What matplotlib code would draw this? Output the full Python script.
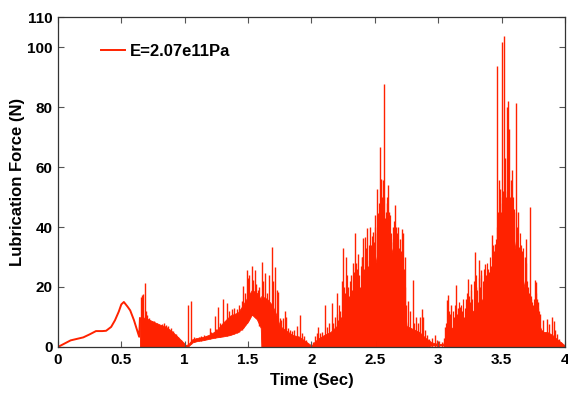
import matplotlib
matplotlib.use("Agg")
import matplotlib.pyplot as plt

plt.rcParams.update({
    "font.family": ["Liberation Sans Narrow", "Liberation Sans", "DejaVu Sans"],
    "font.weight": "bold",
    "font.size": 12,
    "axes.linewidth": 0.9,
})

RED = "#ff2200"

#smooth run-up before the contact starts
smooth_t = [0.0, 0.05, 0.10, 0.15, 0.20, 0.25, 0.30, 0.35, 0.38, 0.42, 0.45,
            0.48, 0.50, 0.52, 0.55, 0.57, 0.60, 0.62, 0.641, 0.647]
smooth_f = [0.0, 1.1, 2.2, 2.7, 3.2, 4.2, 5.3, 5.3, 5.4, 6.7, 8.9,
            11.8, 14.2, 15.0, 13.4, 12.2, 8.9, 6.2, 3.4, 9.6]

#dense oscillation band: lower and upper edge of the solid red
core_t = [0.647, 0.66, 0.70, 0.75, 0.80, 0.85, 0.90, 0.95, 0.99, 1.01,
          1.03, 1.06, 1.10, 1.15, 1.20, 1.25, 1.30, 1.36, 1.42, 1.46,
          1.50, 1.53, 1.57, 1.60, 1.605, 1.65, 1.69, 1.72, 1.75, 1.80,
          1.85, 1.90, 1.95, 2.00, 2.03, 2.06, 2.10, 2.15, 2.20, 2.24,
          2.28, 2.32, 2.36, 2.40, 2.45, 2.50, 2.54, 2.57, 2.60, 2.65,
          2.70, 2.73, 2.75, 2.80, 2.85, 2.90, 2.95, 3.00, 3.04, 3.06,
          3.10, 3.15, 3.20, 3.25, 3.30, 3.35, 3.40, 3.45, 3.48, 3.52,
          3.58, 3.62, 3.66, 3.70, 3.74, 3.78, 3.82, 3.86, 3.90, 3.94,
          3.97, 4.00]
core_lo = [0.0, 0.0, 0.0, 0.0, 0.0, 0.0, 0.0, 0.0, 0.0, 0.0,
           0.3, 1.5, 2.0, 2.3, 2.8, 3.2, 3.5, 4.0, 5.0, 6.3,
           8.5, 10.8, 9.2, 6.3, 0.0, 0.0, 0.0, 0.0, 0.0, 0.0,
           0.0, 0.0, 0.0, 0.0, 0.0, 0.0, 0.0, 0.0, 0.0, 0.0,
           0.0, 0.0, 0.0, 0.0, 0.0, 0.0, 0.0, 0.0, 0.0, 0.0,
           0.0, 0.0, 0.0, 0.0, 0.0, 0.0, 0.5, 0.5, 0.5, 0.0,
           0.0, 0.0, 0.0, 0.0, 0.0, 0.0, 0.0, 0.0, 0.0, 0.0,
           0.0, 0.0, 0.0, 0.0, 0.0, 0.0, 0.0, 0.0, 0.0, 0.0,
           0.0, 0.0]
core_hi = [9.6, 10.0, 9.5, 8.5, 7.5, 6.8, 5.2, 3.2, 1.5, 0.6,
           1.0, 2.6, 3.0, 3.4, 4.2, 5.5, 8.0, 10.5, 11.5, 14.0,
           17.0, 19.0, 18.0, 16.0, 17.0, 16.0, 14.0, 11.0, 7.0, 5.5,
           4.0, 3.5, 2.0, 0.5, 2.0, 3.0, 4.0, 5.0, 7.0, 10.0,
           11.0, 14.0, 16.0, 19.0, 22.0, 27.0, 35.0, 40.0, 37.0, 30.0,
           24.0, 16.0, 7.0, 6.0, 5.0, 3.0, 1.5, 1.0, 1.0, 4.0,
           6.0, 8.0, 9.0, 11.0, 13.0, 16.0, 20.0, 25.0, 35.0, 42.0,
           40.0, 30.0, 24.0, 16.0, 11.0, 9.0, 5.0, 5.0, 4.0, 2.5,
           1.5, 0.5]

#individual force spikes standing on the zero line
spike_t = [0.655, 0.662, 0.668, 0.686, 0.692, 0.70, 0.72, 0.74, 0.76, 0.78,
           0.80, 0.818, 0.835, 0.85, 0.87, 0.89, 0.91, 0.93, 0.95, 0.97,
           0.99,
           1.607, 1.62, 1.635, 1.65, 1.667, 1.686, 1.70, 1.715, 1.725, 1.735,
           1.75, 1.76, 1.775, 1.791, 1.80, 1.815, 1.83, 1.845, 1.86, 1.883,
           1.909, 1.925, 1.94, 1.96, 1.98,
           2.01, 2.028, 2.04, 2.054, 2.07, 2.085, 2.107, 2.12, 2.135, 2.159,
           2.17, 2.185, 2.199, 2.21, 2.225, 2.24, 2.251, 2.265, 2.275, 2.29,
           2.31, 2.325, 2.343, 2.355, 2.37, 2.383, 2.395, 2.409, 2.42, 2.435,
           2.445, 2.46, 2.47, 2.48, 2.488, 2.50, 2.514, 2.527, 2.54, 2.548,
           2.556, 2.565, 2.575, 2.582, 2.593, 2.606, 2.615, 2.625, 2.635, 2.645,
           2.659, 2.67, 2.685, 2.70, 2.711, 2.724, 2.735, 2.745, 2.755, 2.765,
           2.78, 2.798, 2.81, 2.825, 2.84, 2.855, 2.869, 2.88, 2.895, 2.91,
           2.93, 2.95, 2.974, 2.99, 3.01, 3.03,
           3.045, 3.053, 3.067, 3.08, 3.09, 3.10, 3.11, 3.125, 3.14, 3.155,
           3.165, 3.175, 3.19, 3.205, 3.22, 3.237, 3.25, 3.26, 3.275, 3.29,
           3.30, 3.31, 3.325, 3.335, 3.345, 3.369, 3.38, 3.39, 3.40, 3.421,
           3.43, 3.448, 3.461, 3.47, 3.478, 3.485, 3.495, 3.506, 3.519, 3.527,
           3.54, 3.55, 3.56, 3.572, 3.585, 3.595, 3.611, 3.619, 3.63, 3.64,
           3.66, 3.684, 3.695, 3.705, 3.715, 3.724, 3.735, 3.745, 3.763, 3.772,
           3.78, 3.79, 3.80, 3.815, 3.83, 3.855, 3.87, 3.895, 3.91, 3.925,
           3.94, 3.955, 3.965, 3.98]
spike_top = [16.5, 17.3, 17.6, 21.4, 12.0, 10.5, 9.5, 8.8, 8.5, 8.0,
             7.5, 7.8, 8.0, 7.2, 7.0, 6.3, 5.2, 4.2, 3.2, 2.2,
             1.2,
             28.4, 22.0, 24.6, 18.0, 24.0, 33.4, 22.0, 26.7, 19.0, 18.4,
             9.7, 9.0, 9.5, 11.9, 10.0, 6.3, 5.8, 5.2, 5.7, 6.9,
             10.8, 4.5, 3.5, 2.2, 0.8,
             1.5, 3.6, 4.5, 6.8, 4.6, 5.0, 14.0, 6.8, 8.0, 14.6,
             8.0, 10.0, 17.9, 9.0, 12.0, 22.0, 32.9, 18.0, 30.0, 20.0,
             24.0, 28.0, 37.9, 28.0, 31.0, 20.0, 30.0, 36.2, 36.7, 39.6,
             27.0, 40.0, 34.0, 34.0, 38.4, 44.0, 52.8, 44.6, 66.8, 56.0,
             50.0, 55.7, 87.8, 43.0, 48.0, 54.0, 45.0, 35.0, 27.0, 40.0,
             47.3, 40.0, 40.0, 36.0, 39.4, 38.0, 30.0, 14.0, 6.7, 15.4,
             12.0, 22.2, 8.0, 10.0, 8.0, 10.0, 12.8, 10.0, 5.6, 4.0,
             2.8, 3.0, 3.9, 2.2, 2.0, 1.5,
             3.0, 6.7, 15.6, 17.2, 9.0, 14.0, 5.5, 10.0, 20.6, 13.0,
             9.0, 13.3, 12.0, 10.0, 16.0, 22.8, 15.0, 21.0, 7.0, 31.7,
             20.0, 15.0, 28.9, 25.5, 15.0, 27.8, 20.0, 20.0, 25.0, 37.2,
             34.0, 34.4, 93.8, 45.0, 55.7, 52.7, 45.0, 101.8, 103.7, 63.0,
             80.0, 82.0, 72.7, 55.6, 59.0, 45.0, 81.4, 37.9, 45.0, 33.3,
             32.0, 30.0, 36.0, 15.6, 16.7, 46.8, 16.0, 13.3, 22.2, 21.7,
             16.0, 15.0, 11.0, 5.6, 8.9, 9.4, 7.5, 10.0, 8.5, 5.6,
             4.4, 2.5, 1.7, 0.8]

#medium-height spikes that make the top of the two big bursts ragged
ragged_t = [2.205, 2.215, 2.23, 2.245, 2.258, 2.27, 2.282, 2.295, 2.303, 2.318,
            2.333, 2.348, 2.362, 2.376, 2.39, 2.402, 2.414, 2.428, 2.44, 2.452,
            2.465, 2.475, 2.493, 2.505, 2.52, 2.533, 2.56, 2.57, 2.587, 2.598,
            2.61, 2.62, 2.63, 2.64, 2.65, 2.665, 2.675, 2.69, 2.705, 2.718,
            2.73, 2.74,
            3.06, 3.075, 3.085, 3.095, 3.118, 3.132, 3.148, 3.16, 3.17, 3.183,
            3.197, 3.212, 3.228, 3.243, 3.255, 3.268, 3.283, 3.295, 3.305, 3.318,
            3.33, 3.34, 3.352, 3.36, 3.375, 3.385, 3.395, 3.41, 3.415, 3.44,
            3.455, 3.465, 3.49, 3.50, 3.513, 3.533, 3.545, 3.565, 3.578, 3.59,
            3.60, 3.625, 3.645, 3.655, 3.67, 3.69, 3.70, 3.71, 3.72, 3.73,
            3.74, 3.75, 3.757, 3.768, 3.785, 3.795]
ragged_top = [11.0, 14.0, 10.0, 16.0, 20.0, 15.0, 24.0, 17.0, 22.0, 19.0,
              25.0, 22.0, 26.0, 24.0, 27.0, 30.0, 26.0, 33.0, 29.0, 34.0,
              31.0, 37.0, 35.0, 40.0, 38.0, 48.0, 46.0, 50.0, 45.0, 50.0,
              42.0, 44.0, 38.0, 36.0, 42.0, 36.0, 38.0, 33.0, 32.0, 30.0,
              26.0, 20.0,
              8.0, 10.0, 12.0, 11.0, 12.0, 14.0, 11.0, 15.0, 11.0, 14.0,
              16.0, 13.0, 18.0, 17.0, 19.0, 16.0, 22.0, 24.0, 19.0, 23.0,
              20.0, 24.0, 22.0, 26.0, 24.0, 28.0, 26.0, 30.0, 27.0, 32.0,
              36.0, 40.0, 48.0, 50.0, 52.0, 50.0, 52.0, 50.0, 48.0, 50.0,
              46.0, 40.0, 38.0, 34.0, 33.0, 28.0, 22.0, 20.0, 18.0, 17.0,
              15.0, 14.0, 16.0, 18.0, 13.0, 12.0]

#spikes riding on the raised band between 1.0 s and 1.6 s
raised_t = [1.023, 1.049, 1.07, 1.09, 1.11, 1.13, 1.15, 1.17, 1.199, 1.21,
            1.24, 1.25, 1.26, 1.28, 1.30, 1.335, 1.35, 1.37, 1.39, 1.41,
            1.43, 1.449, 1.462, 1.475, 1.489, 1.50, 1.51, 1.528, 1.54, 1.554,
            1.565, 1.575, 1.59]
raised_base = [0.3, 1.0, 1.8, 1.9, 2.0, 2.1, 2.3, 2.5, 2.8, 2.9,
               3.1, 3.2, 3.2, 3.4, 3.5, 3.8, 3.9, 4.2, 4.4, 4.7,
               5.0, 5.5, 6.3, 7.2, 8.0, 8.5, 9.2, 10.8, 10.5, 10.0,
               9.5, 8.5, 7.0]
raised_top = [14.1, 15.4, 3.2, 3.0, 3.3, 3.5, 4.0, 3.8, 6.3, 5.0,
              10.2, 6.0, 13.3, 8.0, 16.0, 14.5, 12.0, 12.5, 13.0, 12.8,
              14.0, 15.2, 20.2, 18.0, 25.8, 22.9, 24.0, 26.9, 22.4, 25.8,
              21.0, 19.0, 20.0]

fig = plt.figure(figsize=(5.68, 3.97), dpi=100)
ax = fig.add_axes([0.102, 0.126, 0.8927, 0.831])

ax.plot(smooth_t, smooth_f, color=RED, lw=1.4, label="E=2.07e11Pa")
ax.fill_between(core_t, core_lo, core_hi, color=RED, lw=0.6)
ax.vlines(ragged_t, 0, ragged_top, color=RED, lw=0.9)
ax.vlines(spike_t, 0, spike_top, color=RED, lw=1.0)
ax.vlines(raised_t, raised_base, raised_top, color=RED, lw=1.0)

ax.set_xlim(0, 4)
ax.set_ylim(0, 110)
ax.set_xticks([0, 0.5, 1, 1.5, 2, 2.5, 3, 3.5, 4])
ax.set_xticklabels(["0", "0.5", "1", "1.5", "2", "2.5", "3", "3.5", "4"])
ax.set_yticks([0, 20, 40, 60, 80, 100, 110])
ax.tick_params(direction="in", top=True, right=True, length=4, width=0.8,
               colors="#555555", labelcolor="black", labelsize=11, pad=4)
for s in ax.spines.values():
    s.set_color("#333333")

ax.set_xlabel("Time (Sec)", fontsize=12, fontweight="bold", labelpad=5)
ax.set_ylabel("Lubrication Force (N)", fontsize=12, fontweight="bold", labelpad=1)

ax.legend(loc="upper left", bbox_to_anchor=(0.055, 0.965), frameon=False,
          handlelength=1.45, handletextpad=0.3, prop={"weight": "bold", "size": 12})

fig.savefig("out.png", dpi=100)
